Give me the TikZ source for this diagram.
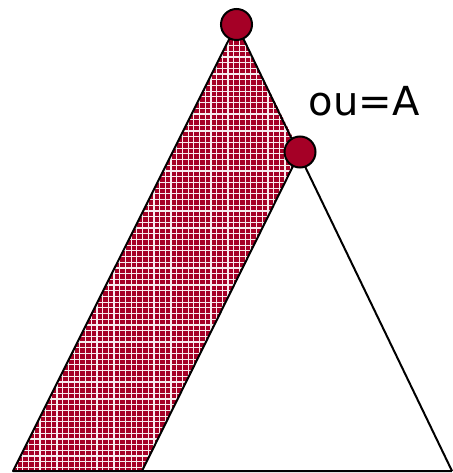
\documentclass[tikz,border=0pt]{standalone}
\usepackage{fontspec}
\setmainfont{DejaVu Sans}
\definecolor{dred}{HTML}{A50026}
\tikzset{
  edge/.style={draw=black, line width=2pt, line join=round},
  dot/.style={circle, draw=black, line width=2pt, fill=dred, minimum size=31pt, inner sep=0pt},
  gridline/.style={draw=white!92!dred, line width=1.2pt}
}
\begin{document}
\begin{tikzpicture}[x=1pt,y=-1pt]
\useasboundingbox (0,0) rectangle (452,473);
\coordinate (top) at (236.5,24.5);
\coordinate (mid) at (300,152);
\coordinate (bl) at (13,471);
\coordinate (bm) at (142,471);
\coordinate (br) at (452,471);
% shaded band
\begin{scope}
\clip (top) -- (bl) -- (bm) -- (mid) -- cycle;
\fill[dred] (top) -- (bl) -- (bm) -- (mid) -- cycle;
\foreach \i in {0,...,82} {
  \draw[gridline] (\i*5.7,0) -- (\i*5.7,473);
  \draw[gridline] (0,\i*5.7) -- (452,\i*5.7);
}
\end{scope}
% outlines
\draw[edge] (br) -- (top) -- (bl) -- (br);
\draw[edge] (mid) -- (bm);
% dots
\node[dot] (a) at (top) {};
\node[dot] (b) at (mid) {};
% label
\node[font=\fontsize{40}{48}\selectfont, inner sep=0pt] (lbl) at (364,101) {ou=A};
\end{tikzpicture}
\end{document}
